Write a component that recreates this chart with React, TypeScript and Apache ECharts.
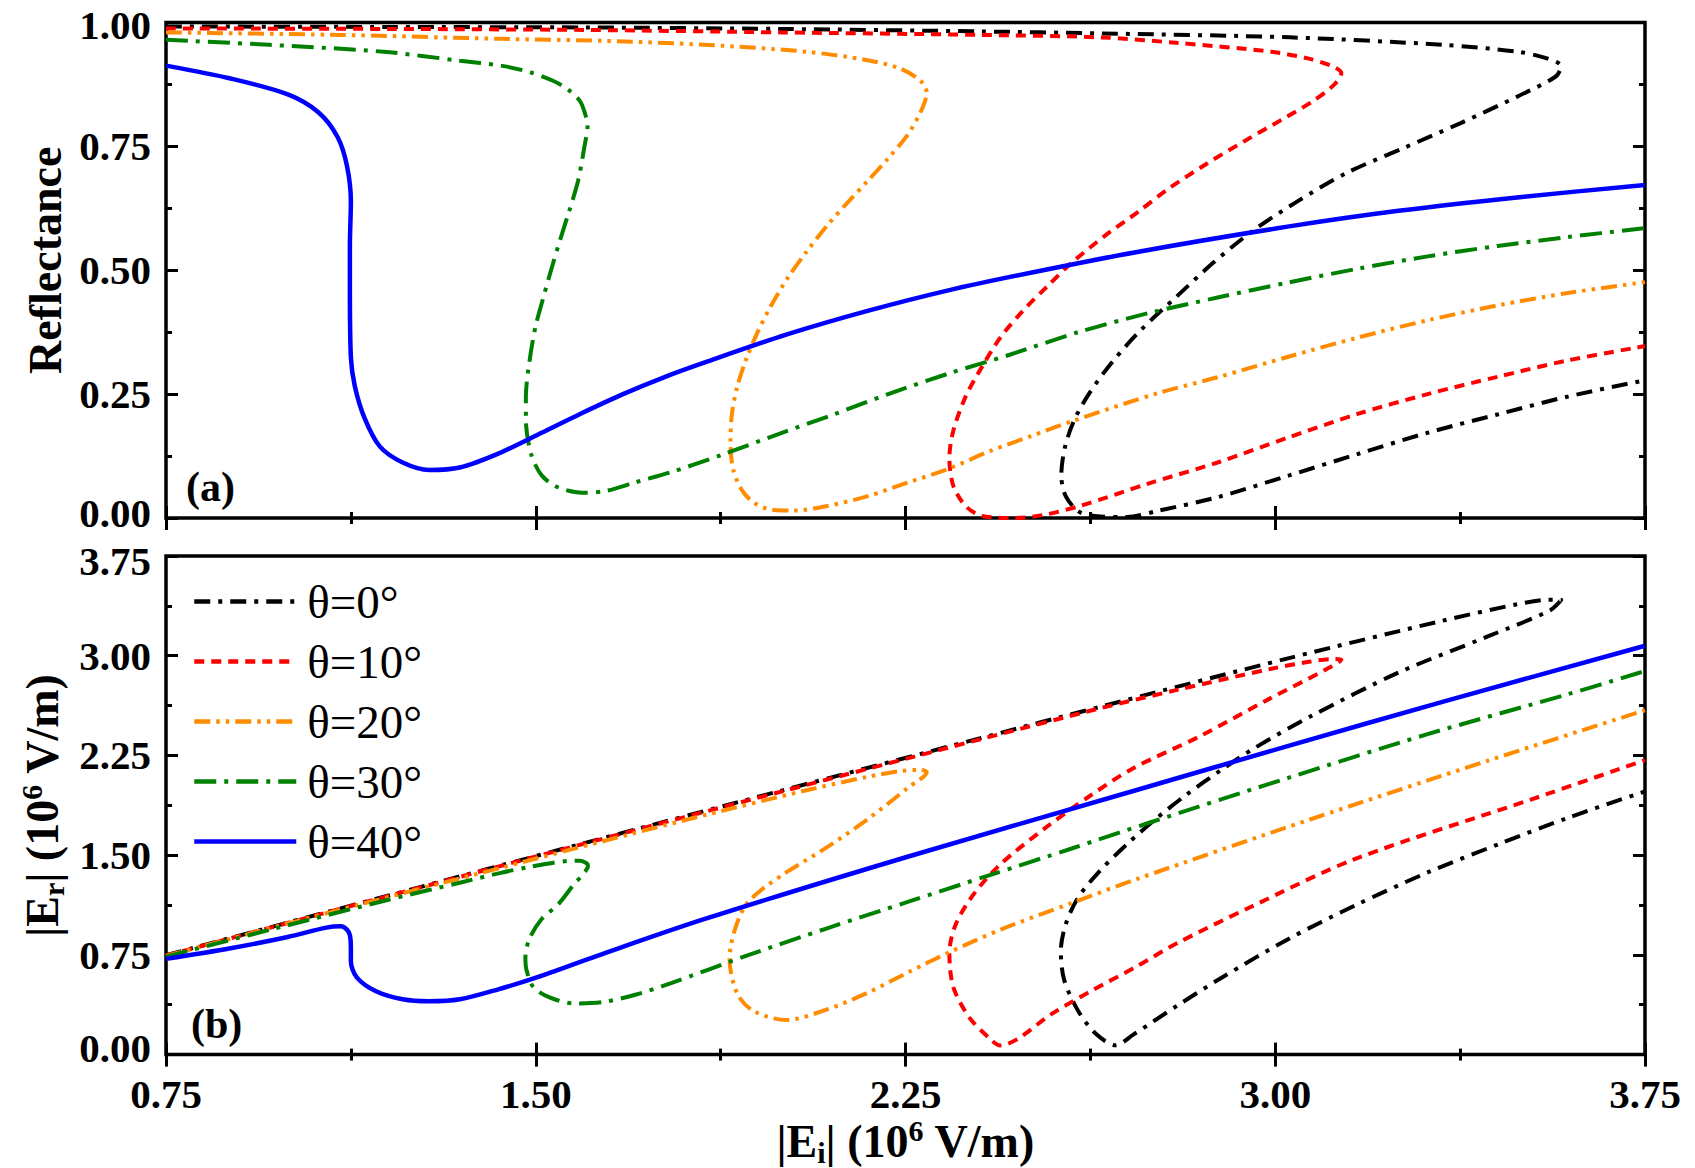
import { useEffect, useRef } from "react";
import * as echarts from "echarts";

// Panel (a): |Ei| (10^6 V/m) vs reflectance, points follow each hysteresis curve in order
const reflect0: [number, number][] = [
  [0.75, 0.992], [1.2, 0.991], [1.6, 0.99], [2.0, 0.987], [2.4, 0.982], [2.645, 0.978], [3.03, 0.97],
  [3.338, 0.955], [3.492, 0.941], [3.553, 0.927], [3.58, 0.912], [3.569, 0.891], [3.492, 0.851],
  [3.376, 0.797], [3.261, 0.747], [3.146, 0.697], [3.045, 0.639], [2.955, 0.58], [2.874, 0.515],
  [2.799, 0.446], [2.728, 0.38], [2.672, 0.318], [2.625, 0.255], [2.592, 0.197], [2.573, 0.141],
  [2.566, 0.086], [2.575, 0.044], [2.603, 0.012], [2.645, 0.003], [2.7, 0.002], [2.76, 0.014],
  [2.883, 0.042], [3.025, 0.085], [3.167, 0.129], [3.309, 0.172], [3.451, 0.209], [3.593, 0.245],
  [3.75, 0.278],
];
const reflect10: [number, number][] = [
  [0.75, 0.988], [1.2, 0.987], [1.6, 0.985], [2.0, 0.98], [2.4, 0.975], [2.645, 0.97], [2.799, 0.959],
  [2.992, 0.941], [3.068, 0.927], [3.115, 0.912], [3.134, 0.898], [3.118, 0.873], [3.076, 0.841],
  [3.015, 0.805], [2.938, 0.761], [2.861, 0.715], [2.784, 0.665], [2.722, 0.618], [2.655, 0.57],
  [2.587, 0.515], [2.537, 0.467], [2.488, 0.418], [2.443, 0.365], [2.405, 0.305], [2.372, 0.245],
  [2.347, 0.176], [2.339, 0.121], [2.347, 0.065], [2.372, 0.024], [2.405, 0.004], [2.47, 0.0],
  [2.529, 0.006], [2.603, 0.024], [2.741, 0.069], [2.883, 0.112], [3.025, 0.162], [3.167, 0.21],
  [3.309, 0.25], [3.451, 0.285], [3.593, 0.318], [3.75, 0.347],
];
const reflect20: [number, number][] = [
  [0.75, 0.98], [1.1, 0.975], [1.429, 0.967], [1.636, 0.963], [1.843, 0.955], [2.049, 0.941],
  [2.173, 0.924], [2.239, 0.907], [2.281, 0.882], [2.293, 0.858], [2.281, 0.82], [2.252, 0.77],
  [2.214, 0.725], [2.173, 0.68], [2.132, 0.636], [2.09, 0.589], [2.049, 0.537], [2.01, 0.483],
  [1.977, 0.428], [1.95, 0.375], [1.927, 0.321], [1.909, 0.266], [1.898, 0.211], [1.895, 0.155],
  [1.9, 0.1], [1.917, 0.058], [1.942, 0.031], [1.983, 0.016], [2.025, 0.015], [2.09, 0.024],
  [2.173, 0.044], [2.256, 0.072], [2.339, 0.1], [2.421, 0.135], [2.504, 0.165], [2.587, 0.195],
  [2.762, 0.252], [2.883, 0.284], [3.025, 0.325], [3.167, 0.364], [3.309, 0.399], [3.451, 0.429],
  [3.593, 0.454], [3.75, 0.476],
];
const reflect30: [number, number][] = [
  [0.75, 0.965], [0.959, 0.955], [1.191, 0.941], [1.346, 0.923], [1.429, 0.913], [1.487, 0.9],
  [1.536, 0.882], [1.565, 0.865], [1.59, 0.841], [1.603, 0.806], [1.605, 0.79], [1.599, 0.751],
  [1.586, 0.681], [1.568, 0.62], [1.549, 0.56], [1.531, 0.5], [1.514, 0.44], [1.499, 0.384],
  [1.487, 0.314], [1.48, 0.245], [1.48, 0.197], [1.491, 0.128], [1.512, 0.086], [1.545, 0.062],
  [1.594, 0.051], [1.644, 0.055], [1.702, 0.072], [1.776, 0.093], [1.876, 0.127], [1.991, 0.169],
  [2.107, 0.21], [2.215, 0.25], [2.339, 0.292], [2.463, 0.33], [2.6, 0.375], [2.741, 0.413],
  [2.883, 0.445], [3.025, 0.475], [3.167, 0.503], [3.309, 0.528], [3.451, 0.549], [3.593, 0.567],
  [3.75, 0.585],
];
const reflect40: [number, number][] = [
  [0.75, 0.913], [0.881, 0.887], [0.997, 0.855], [1.059, 0.819], [1.098, 0.769], [1.117, 0.711],
  [1.125, 0.639], [1.123, 0.55], [1.123, 0.467], [1.125, 0.324], [1.133, 0.266], [1.153, 0.201],
  [1.184, 0.144], [1.23, 0.112], [1.284, 0.097], [1.346, 0.102], [1.424, 0.13], [1.512, 0.172],
  [1.59, 0.21], [1.677, 0.25], [1.76, 0.284], [1.843, 0.314], [2.008, 0.37], [2.173, 0.418],
  [2.339, 0.46], [2.504, 0.495], [2.72, 0.537], [3.025, 0.588], [3.25, 0.62], [3.5, 0.648],
  [3.75, 0.672],
];

// Panel (b): |Ei| vs |Er| (10^6 V/m)
const field0: [number, number][] = [
  [0.75, 0.747], [1.2, 1.195], [1.6, 1.592], [2.0, 1.987], [2.4, 2.378], [2.645, 2.616], [3.03, 2.984],
  [3.338, 3.262], [3.492, 3.388], [3.553, 3.421], [3.58, 3.42], [3.557, 3.34], [3.431, 3.145],
  [3.251, 2.875], [3.072, 2.544], [2.96, 2.31], [2.89, 2.14], [2.82, 1.955], [2.76, 1.78],
  [2.7, 1.585], [2.645, 1.385], [2.6, 1.18], [2.575, 0.98], [2.565, 0.78], [2.572, 0.56],
  [2.6, 0.33], [2.635, 0.16], [2.676, 0.07], [2.712, 0.15], [2.802, 0.37], [2.892, 0.58],
  [3.027, 0.87], [3.161, 1.12], [3.309, 1.37], [3.451, 1.58], [3.593, 1.78], [3.75, 1.98],
];
const field10: [number, number][] = [
  [0.75, 0.745], [1.2, 1.192], [1.6, 1.588], [2.0, 1.98], [2.4, 2.37], [2.645, 2.605], [2.799, 2.741],
  [2.992, 2.902], [3.068, 2.954], [3.115, 2.975], [3.134, 2.97], [3.107, 2.905], [2.982, 2.664],
  [2.847, 2.394], [2.712, 2.154], [2.623, 1.943], [2.533, 1.703], [2.443, 1.433], [2.388, 1.205],
  [2.352, 0.98], [2.339, 0.766], [2.347, 0.508], [2.38, 0.276], [2.421, 0.121], [2.442, 0.069],
  [2.479, 0.121], [2.545, 0.302], [2.628, 0.482], [2.719, 0.663], [2.802, 0.84], [2.95, 1.11],
  [3.161, 1.47], [3.52, 1.92], [3.75, 2.215],
];
const field20: [number, number][] = [
  [0.75, 0.742], [1.1, 1.087], [1.429, 1.405], [1.636, 1.605], [1.843, 1.801], [2.049, 1.988],
  [2.173, 2.089], [2.239, 2.132], [2.281, 2.142], [2.293, 2.124], [2.256, 2.01], [2.173, 1.77],
  [2.091, 1.56], [2.008, 1.37], [1.958, 1.24], [1.925, 1.12], [1.903, 0.93], [1.893, 0.72],
  [1.909, 0.456], [1.942, 0.327], [2.008, 0.26], [2.091, 0.34], [2.173, 0.465], [2.256, 0.62],
  [2.339, 0.77], [2.443, 0.94], [2.587, 1.14], [2.719, 1.32], [3.072, 1.77], [3.431, 2.21],
  [3.75, 2.59],
];
const field30: [number, number][] = [
  [0.75, 0.737], [0.959, 0.937], [1.191, 1.155], [1.346, 1.293], [1.429, 1.367], [1.487, 1.411],
  [1.536, 1.443], [1.565, 1.456], [1.59, 1.458], [1.603, 1.439], [1.606, 1.42], [1.594, 1.348],
  [1.578, 1.283], [1.545, 1.128], [1.512, 1.02], [1.487, 0.87], [1.479, 0.73], [1.481, 0.64],
  [1.495, 0.508], [1.528, 0.43], [1.578, 0.385], [1.636, 0.395], [1.702, 0.45], [1.776, 0.54],
  [1.925, 0.74], [2.091, 0.95], [2.256, 1.15], [2.421, 1.35], [2.587, 1.55], [2.741, 1.74],
  [3.025, 2.08], [3.309, 2.41], [3.593, 2.71], [3.75, 2.885],
];
const field40: [number, number][] = [
  [0.75, 0.72], [0.881, 0.8], [0.997, 0.885], [1.075, 0.955], [1.105, 0.965], [1.117, 0.94],
  [1.123, 0.898], [1.125, 0.8], [1.125, 0.702], [1.137, 0.581], [1.176, 0.476], [1.23, 0.416],
  [1.284, 0.401], [1.346, 0.416], [1.424, 0.491], [1.502, 0.581], [1.626, 0.745], [1.843, 1.02],
  [2.256, 1.49], [2.719, 1.99], [3.025, 2.32], [3.341, 2.655], [3.75, 3.075],
];

const angleNames = ["θ=0°", "θ=10°", "θ=20°", "θ=30°", "θ=40°"];
const eiRange = [0.75, 3.75, 0.75];
const reflectRange = [0, 1, 0.25];
const fieldRange = [0, 3.75, 0.75];

const FONT = "'Liberation Serif', 'Times New Roman', serif";
const LABEL_SIZE = 41;

const lineStyles = [
  { color: "#000000", type: [16, 8, 4, 8], width: 4 },
  { color: "#ff0000", type: [10, 7], width: 4 },
  { color: "#ff8c00", type: [16, 6, 3.5, 6, 3.5, 6], width: 4 },
  { color: "#008000", type: [22, 8, 4, 8], width: 4 },
  { color: "#0000ff", type: "solid", width: 4.5 },
];

const richName = {
  sub: { fontSize: 30, fontWeight: "bold", fontFamily: FONT, color: "#000", verticalAlign: "bottom", lineHeight: 28 },
  sup: { fontSize: 30, fontWeight: "bold", fontFamily: FONT, color: "#000", verticalAlign: "top", lineHeight: 28 },
};

const tickFont = { fontSize: LABEL_SIZE, fontWeight: "bold", fontFamily: FONT, color: "#000", lineHeight: 30 };
// small nudges so the stacked end labels of the two panels do not collide
const richTick = {
  up5: { ...tickFont, padding: [0, 0, 10, 0] },
  up7: { ...tickFont, padding: [0, 0, 14, 0] },
  down2: { ...tickFont, padding: [4, 0, 0, 0] },
  down5: { ...tickFont, padding: [10, 0, 0, 0] },
};

function frameAxis(gridIndex: number, position: string, range: number[], showLabels: boolean) {
  return {
    type: "value",
    gridIndex,
    position,
    min: range[0],
    max: range[1],
    interval: range[2],
    axisLine: { show: false },
    axisTick: { show: true, inside: true, length: 12, lineStyle: { color: "#000", width: 3 } },
    minorTick: { show: true, splitNumber: 2, length: 6, lineStyle: { color: "#000", width: 3 } },
    splitLine: { show: false },
    minorSplitLine: { show: false },
    axisLabel: {
      show: showLabels,
      ...tickFont,
      margin: 15,
      rich: richTick,
      formatter: (v: number) => v.toFixed(2),
    },
  };
}

export default function App() {
  const chartRef = useRef<HTMLDivElement>(null);

  useEffect(() => {
    if (!chartRef.current) return;
    const chart = echarts.init(chartRef.current, undefined, { renderer: "svg" });

    const reflectSets = [reflect0, reflect10, reflect20, reflect30, reflect40];
    const fieldSets = [field0, field10, field20, field30, field40];

    const series: any[] = [];
    angleNames.forEach((name, i) => {
      const common = {
        name,
        type: "line",
        showSymbol: false,
        symbol: "none",
        smooth: 0.3,
        lineStyle: lineStyles[i],
        itemStyle: { color: lineStyles[i].color },
        z: 2 + i,
      };
      series.push({ ...common, xAxisIndex: 0, yAxisIndex: 0, data: reflectSets[i] });
      series.push({ ...common, xAxisIndex: 2, yAxisIndex: 2, data: fieldSets[i] });
    });

    const nameStyle = {
      color: "#000",
      fontFamily: FONT,
      fontWeight: "bold",
      fontSize: 46,
      lineHeight: 52,
      rich: richName,
    };

    const xBottomB: any = frameAxis(1, "bottom", eiRange, true);
    xBottomB.axisLabel.margin = 24;
    xBottomB.name = "|E{sub|i}| (10{sup|6} V/m)";
    xBottomB.nameLocation = "middle";
    xBottomB.nameGap = 52;
    xBottomB.nameTextStyle = nameStyle;

    const yLeftA: any = frameAxis(0, "left", reflectRange, true);
    yLeftA.axisLabel.formatter = (v: number) => {
      const s = v.toFixed(2);
      if (v === 0) return `{up5|${s}}`;
      if (v === 1) return `{down2|${s}}`;
      return s;
    };
    yLeftA.name = "Reflectance";
    yLeftA.nameLocation = "middle";
    yLeftA.nameGap = 96;
    yLeftA.nameTextStyle = { color: "#000", fontFamily: FONT, fontWeight: "bold", fontSize: 46, padding: [0, 0, 0, 20] };

    const yLeftB: any = frameAxis(1, "left", fieldRange, true);
    yLeftB.axisLabel.formatter = (v: number) => {
      const s = v.toFixed(2);
      if (v === 0) return `{up7|${s}}`;
      if (v === 3.75) return `{down5|${s}}`;
      return s;
    };
    yLeftB.name = "|E{sub|r}| (10{sup|6} V/m)";
    yLeftB.nameLocation = "middle";
    yLeftB.nameGap = 95;
    yLeftB.nameTextStyle = nameStyle;

    chart.setOption({
      animation: false,
      backgroundColor: "#ffffff",
      grid: [
        { left: 166, top: 21, width: 1479, height: 497, show: true, borderColor: "#000", borderWidth: 3.5, backgroundColor: "transparent" },
        { left: 166, top: 556, width: 1479, height: 499, show: true, borderColor: "#000", borderWidth: 3.5, backgroundColor: "transparent" },
      ],
      xAxis: [
        frameAxis(0, "bottom", eiRange, false),
        frameAxis(0, "top", eiRange, false),
        xBottomB,
        frameAxis(1, "top", eiRange, false),
      ],
      yAxis: [
        yLeftA,
        frameAxis(0, "right", reflectRange, false),
        yLeftB,
        frameAxis(1, "right", fieldRange, false),
      ],
      legend: {
        data: angleNames,
        orient: "vertical",
        left: 192,
        top: 578,
        padding: 0,
        itemWidth: 102,
        itemHeight: 16,
        itemGap: 13,
        selectedMode: false,
        itemStyle: { opacity: 0 },
        lineStyle: { width: 4.5 },
        textStyle: { color: "#000", fontFamily: FONT, fontSize: 47, padding: [0, 0, 0, 6] },
      },
      graphic: [
        { type: "text", left: 186, top: 466, style: { text: "(a)", fill: "#000", fontFamily: FONT, fontWeight: "bold", fontSize: 42 } },
        { type: "text", left: 191, top: 1003, style: { text: "(b)", fill: "#000", fontFamily: FONT, fontWeight: "bold", fontSize: 42 } },
      ],
      series,
    });

    return () => {
      chart.dispose();
    };
  }, []);

  return (
    <div
      ref={chartRef}
      style={{ position: "absolute", left: 0, top: 0, width: 1695, height: 1168, background: "#fff" }}
    />
  );
}
